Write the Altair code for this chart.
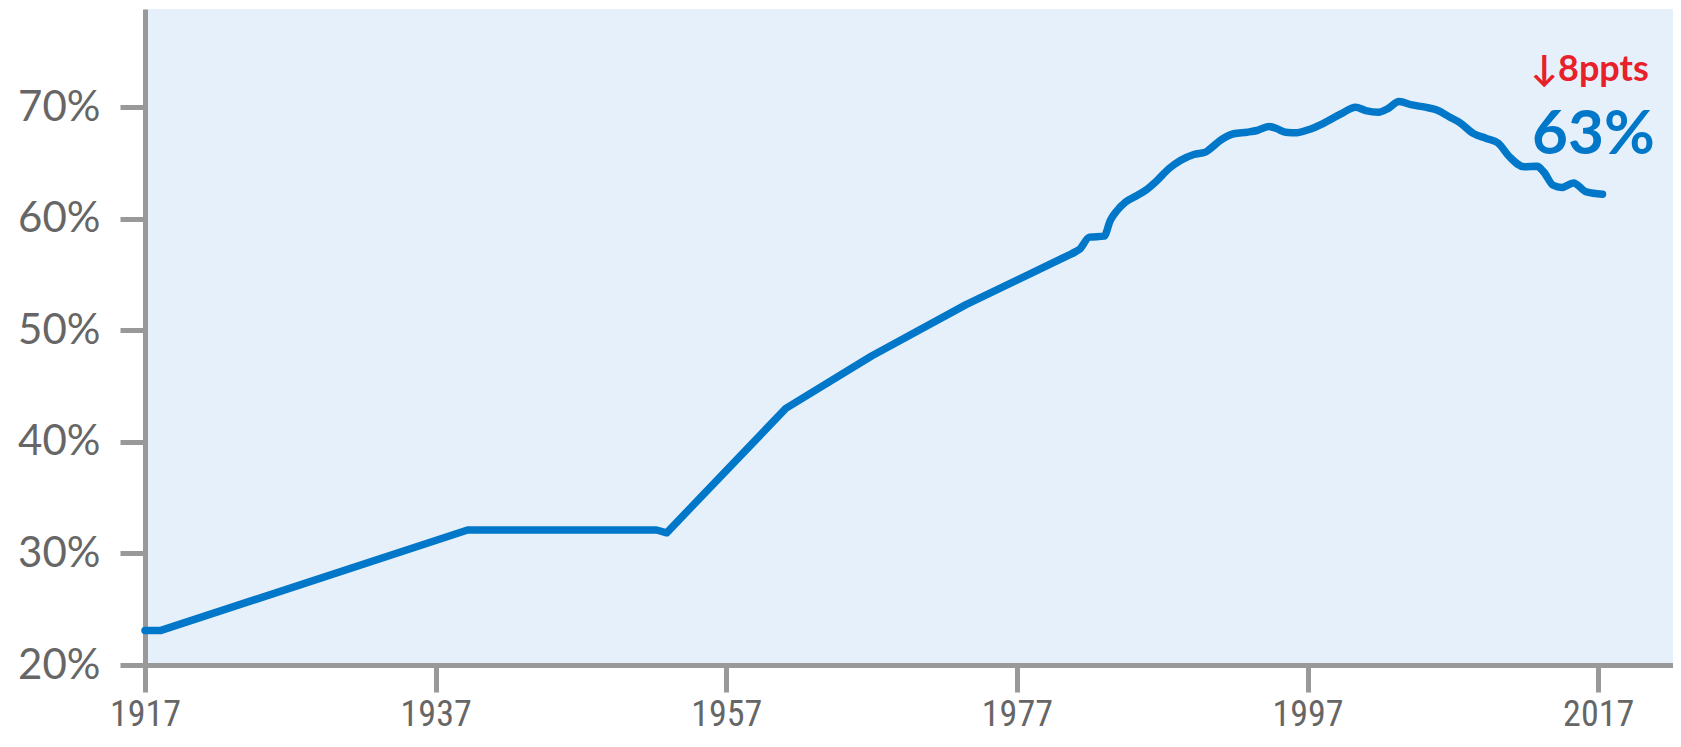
import altair as alt
import pandas as pd

# Early, straight-segment part of the series (year, share %)
years_early = [1917.0, 1918.1, 1939.2, 1952.2, 1952.9, 1961.1, 1967.0, 1973.5, 1980.9]
share_early = [23.1, 23.1, 32.1, 32.1, 31.85, 43.0, 47.7, 52.3, 56.95]

# Later, smoothly varying part of the series
years_late = [1980.9, 1981.3, 1982.0, 1983.0, 1983.43, 1983.9, 1984.47, 1985.27, 1985.85,
              1986.65, 1987.45, 1988.25, 1989.17, 1989.97, 1990.3, 1991.0, 1991.92,
              1992.84, 1993.53, 1994.33, 1994.91, 1995.48, 1996.28, 1997.0, 1998.1,
              1999.3, 2000.3, 2001.0, 2001.9, 2002.5, 2003.3, 2004.2, 2005.1, 2005.9,
              2006.8, 2007.5, 2008.4, 2009.3, 2010.1, 2010.9, 2011.9, 2012.8, 2013.25,
              2013.9, 2014.5, 2015.3, 2016.2, 2017.3]
share_late = [56.95, 57.25, 58.35, 58.44, 59.85, 60.74, 61.49, 62.09, 62.54,
              63.43, 64.48, 65.22, 65.76, 65.97, 66.27, 67.02, 67.62,
              67.76, 67.91, 68.27, 68.06, 67.76, 67.71, 67.95, 68.55,
              69.4, 70.0, 69.7, 69.55, 69.85, 70.5, 70.2, 70.0, 69.75,
              69.1, 68.6, 67.65, 67.2, 66.8, 65.55, 64.65, 64.7, 64.2,
              63.0, 62.8, 63.2, 62.4, 62.2]

x_ticks = [1917, 1937, 1957, 1977, 1997, 2017]
y_ticks = [20, 30, 40, 50, 60, 70]

change_label = "↓8ppts"
latest_label = "63%"

BLUE = "#0077c8"
RED = "#e8202a"
GREY = "#999999"
LABEL = "#666666"

df_early = pd.DataFrame({"year": years_early, "share": share_early})
df_late = pd.DataFrame({"year": years_late, "share": share_late})

x_enc = alt.X(
    "year:Q",
    scale=alt.Scale(domain=[1917, 2022.15], nice=False, zero=False),
    axis=alt.Axis(
        values=x_ticks, format="d", title=None, grid=False,
        domainColor=GREY, domainWidth=5, tickColor=GREY, tickWidth=5, tickSize=27,
        labelFont="Liberation Sans Narrow, Roboto Condensed, DejaVu Sans Condensed, sans-serif",
        labelFontSize=36, labelColor=LABEL, labelPadding=5,
        labelFlush=False, labelOverlap=False,
    ),
)
y_enc = alt.Y(
    "share:Q",
    scale=alt.Scale(domain=[20, 78.8], nice=False, zero=False),
    axis=alt.Axis(
        values=y_ticks, title=None, grid=False,
        labelExpr="datum.value + '%'",
        domainColor=GREY, domainWidth=5, tickColor=GREY, tickWidth=5, tickSize=25,
        labelFont="Lato", labelFontSize=42, labelColor=LABEL, labelPadding=20,
        labelFlush=False, labelOverlap=False,
    ),
)

early = alt.Chart(df_early).mark_line(
    color=BLUE, strokeWidth=7.5, strokeCap="round", strokeJoin="round", interpolate="linear"
).encode(x=x_enc, y=y_enc)

late = alt.Chart(df_late).mark_line(
    color=BLUE, strokeWidth=7.5, strokeCap="round", strokeJoin="round", interpolate="monotone"
).encode(x=x_enc, y=y_enc)

t1 = alt.Chart(pd.DataFrame({"t": [change_label]})).mark_text(
    color=RED, font="Lato", fontWeight="bold", fontSize=36, align="left", baseline="alphabetic"
).encode(text="t:N", x=alt.value(1386), y=alt.value(72))

t2 = alt.Chart(pd.DataFrame({"t": [latest_label]})).mark_text(
    color=BLUE, font="Lato", fontWeight="bold", fontSize=62, align="left", baseline="alphabetic"
).encode(text="t:N", x=alt.value(1387), y=alt.value(145))

chart = alt.layer(early, late, t1, t2).properties(
    width=1528, height=656,
    autosize=alt.AutoSizeParams(type="none"),
    padding={"left": 137, "top": 1, "right": 0, "bottom": 74},
    background="white",
).configure_view(fill="#e6f0fa", strokeWidth=0)

chart.save("out.html", embed_options={"renderer": "svg", "actions": False})
